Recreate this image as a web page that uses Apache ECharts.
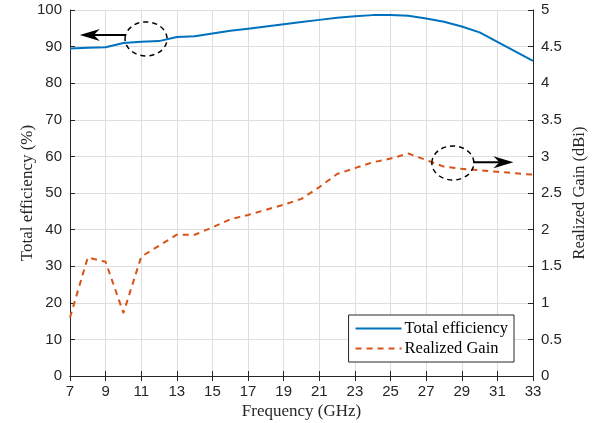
<!DOCTYPE html>
<html><head><meta charset="utf-8">
<script src="https://cdn.jsdelivr.net/npm/echarts@6/dist/echarts.min.js"></script>
<style>html,body{margin:0;padding:0;background:#fff}#c{width:603px;height:423px}</style>
</head><body><div id="c"></div>
<script>
var freqs = [7,8,9,10,11,12,13,14,15,16,17,18,19,20,21,22,23,24,25,26,27,28,29,30,31,32,33];
var efficiency = [89.5,89.7,89.8,91.0,91.3,91.5,92.6,92.8,93.6,94.3,94.9,95.5,96.1,96.7,97.3,97.9,98.3,98.6,98.6,98.4,97.7,96.8,95.5,93.9,91.3,88.7,86.1];
var gain = [0.80,1.62,1.56,0.86,1.63,1.78,1.93,1.93,2.03,2.14,2.20,2.27,2.34,2.42,2.58,2.76,2.84,2.92,2.97,3.04,2.95,2.86,2.83,2.81,2.79,2.77,2.75];
// annotation anchors in data coordinates (GHz, value)
var ann1 = {cx: 11.27, cy: 92.1, arrowFrom: 10.1, arrowTo: 7.55, arrowY: 93.2, axis: 0};
var ann2 = {cx: 28.5, cy: 2.91, arrowFrom: 29.64, arrowTo: 31.9, arrowY: 2.92, axis: 1};

var axisColor = '#262626';
var tickFont = {fontFamily: 'Liberation Sans, Arial, sans-serif', fontSize: 15, color: axisColor};
var serif = 'Liberation Serif, Times New Roman, serif';
var chart = echarts.init(document.getElementById('c'), null, {renderer: 'canvas'});
var cats = freqs.map(String);
chart.setOption({
  animation: false,
  backgroundColor: '#fff',
  grid: {left: 70, right: 70, top: 10, bottom: 47, show: false, outerBoundsMode: 'none', containLabel: false},
  legend: {
    orient: 'vertical', right: 89, bottom: 61,
    backgroundColor: '#fff', borderColor: axisColor, borderWidth: 1,
    padding: [5, 6, 5, 6], itemGap: 3, itemWidth: 46, itemHeight: 14,
    itemStyle: {opacity: 0},
    textStyle: {fontFamily: serif, fontSize: 16.5, color: '#000', padding: [0, 0, 0, -2]},
    data: ['Total efficiency', 'Realized Gain']
  },
  xAxis: [{
    type: 'category', data: cats, boundaryGap: false,
    name: 'Frequency (GHz)', nameLocation: 'middle', nameGap: 27, nameMoveOverlap: false,
    nameTextStyle: {fontFamily: serif, fontSize: 17, color: axisColor},
    axisLine: {lineStyle: {color: axisColor, width: 1}},
    axisTick: {inside: true, interval: 1, length: 5, lineStyle: {color: axisColor}},
    axisLabel: Object.assign({interval: 1, margin: 8}, tickFont),
    splitLine: {show: true, interval: 1, lineStyle: {color: '#dedede', width: 1}}
  }, {
    type: 'category', data: cats, boundaryGap: false, position: 'top',
    axisLine: {lineStyle: {color: axisColor, width: 1}},
    axisTick: {inside: true, interval: 1, length: 5, lineStyle: {color: axisColor}},
    axisLabel: {show: false}, splitLine: {show: false}
  }],
  yAxis: [{
    type: 'value', min: 0, max: 100, interval: 10, position: 'left',
    name: 'Total efficiency (%)', nameLocation: 'middle', nameGap: 34, nameMoveOverlap: false,
    nameTextStyle: {fontFamily: serif, fontSize: 17, color: axisColor},
    axisLine: {show: true, lineStyle: {color: axisColor, width: 1}},
    axisTick: {show: true, inside: true, length: 5, lineStyle: {color: axisColor}},
    axisLabel: Object.assign({margin: 8}, tickFont),
    splitLine: {show: true, lineStyle: {color: '#dedede', width: 1}}
  }, {
    type: 'value', min: 0, max: 5, interval: 0.5, position: 'right',
    name: 'Realized Gain (dBi)', nameLocation: 'middle', nameGap: 38, nameRotate: 90, nameMoveOverlap: false,
    nameTextStyle: {fontFamily: serif, fontSize: 16.5, color: axisColor},
    axisLine: {show: true, lineStyle: {color: axisColor, width: 1}},
    axisTick: {show: true, inside: true, length: 5, lineStyle: {color: axisColor}},
    axisLabel: Object.assign({margin: 8}, tickFont),
    splitLine: {show: false}
  }],
  series: [{
    name: 'Total efficiency', type: 'line', xAxisIndex: 0, yAxisIndex: 0,
    data: efficiency, symbol: 'none', smooth: false,
    lineStyle: {color: '#0072BD', width: 2}, itemStyle: {color: '#0072BD'}
  }, {
    name: 'Realized Gain', type: 'line', xAxisIndex: 0, yAxisIndex: 1,
    data: gain, symbol: 'none', smooth: false,
    lineStyle: {color: '#D95319', width: 2, type: [6, 5]}, itemStyle: {color: '#D95319'}
  }]
});

function px(ghz, val, axis) {
  var a = chart.convertToPixel({xAxisIndex: 0, yAxisIndex: axis}, [0, val]);
  var b = chart.convertToPixel({xAxisIndex: 0, yAxisIndex: axis}, [freqs.length - 1, val]);
  var t = (ghz - freqs[0]) / (freqs[freqs.length - 1] - freqs[0]);
  return [a[0] + (b[0] - a[0]) * t, a[1]];
}
function annotation(an) {
  var c = px(an.cx, an.cy, an.axis);
  var s = px(an.arrowFrom, an.arrowY, an.axis);
  var e = px(an.arrowTo, an.arrowY, an.axis);
  var dir = e[0] < s[0] ? -1 : 1;
  var L = 20, H = 6, N = 6;
  var tip = e, back = e[0] - dir * L;
  return [
    {type: 'ellipse', shape: {cx: c[0], cy: c[1], rx: 21, ry: 17}, style: {fill: null, stroke: '#000', lineWidth: 1.5, lineDash: [5, 4]}, z: 100},
    {type: 'line', shape: {x1: s[0], y1: s[1], x2: back + dir * N, y2: s[1]}, style: {stroke: '#000', lineWidth: 2}, z: 100},
    {type: 'polygon', shape: {points: [[tip[0], tip[1]], [back, tip[1] - H], [back + dir * N, tip[1]], [back, tip[1] + H]]}, style: {fill: '#000'}, z: 100}
  ];
}
chart.setOption({graphic: annotation(ann1).concat(annotation(ann2))});
</script></body></html>
